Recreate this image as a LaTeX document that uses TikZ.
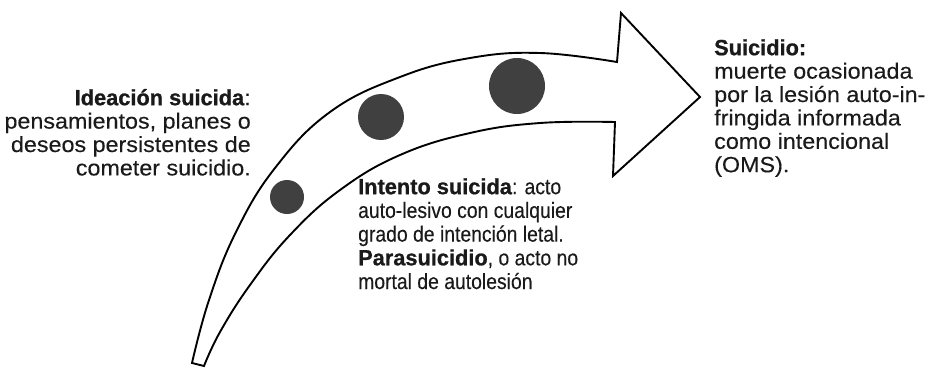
\documentclass[tikz,border=0pt]{standalone}
\usepackage{fontspec}
\setmainfont{Liberation Sans}
\newfontfamily\wideface{Liberation Sans}[FakeStretch=1.06,FakeBold=0.25,BoldFeatures={FakeStretch=0.99,FakeBold=0.8}]
\newfontfamily\normface{Liberation Sans}[FakeStretch=0.88,FakeBold=0.25,BoldFeatures={FakeStretch=0.99,FakeBold=0.8}]
\newcommand\topstrut{\rule{0pt}{20.5pt}}
\definecolor{dotgray}{HTML}{404040}
\definecolor{textgray}{HTML}{1A1A1A}
\begin{document}
\begin{tikzpicture}[x=1pt,y=-1pt,
  dotnode/.style={circle, fill=dotgray, draw=none, inner sep=0pt},
  wideblock/.style={inner sep=0pt, text=textgray, font={\wideface\fontsize{22}{23.4}\selectfont}},
  normblock/.style={inner sep=0pt, text=textgray, font={\normface\fontsize{22}{23.7}\selectfont}},
  arrowline/.style={draw=black, line width=1.9pt, line join=miter, fill=white}]
\useasboundingbox (0,0) rectangle (928,368);

\draw[arrowline]
  plot[smooth, tension=0.7] coordinates {(192,363) (209,300) (236,232) (275,168) (330,112) (400,77) (470,58) (540,53) (617,62)}
  -- (621,13) -- (700,97) -- (613,176) -- (615,122)
  -- plot[smooth, tension=0.7] coordinates {(615,122) (540,123) (470,133) (400,155) (340,190) (290,235) (250,285) (220,332) (204,366)}
  -- cycle;

\node[dotnode, minimum size=34pt] (d1) at (287,197) {};
\node[dotnode, minimum size=46pt] (d2) at (381,117) {};
\node[dotnode, minimum size=56pt] (d3) at (517,86) {};

\node[wideblock, anchor=north east, align=right] (ideacion) at (251,84.5)
  {\topstrut\textbf{Ideación suicida}:\\pensamientos, planes o\\deseos persistentes de\\cometer suicidio.};

\node[normblock, anchor=north west, align=left] (intento) at (358,173.5)
  {\topstrut\textbf{Intento suicida}: acto\\auto-lesivo con cualquier\\grado de intención letal.\\\textbf{Parasuicidio}, o acto no\\mortal de autolesión};

\node[wideblock, anchor=north west, align=left] (suicidio) at (714,34.5)
  {\topstrut\textbf{Suicidio:}\\muerte ocasionada\\por la lesión auto-in-\\fringida informada\\como intencional\\(OMS).};
\end{tikzpicture}
\end{document}
